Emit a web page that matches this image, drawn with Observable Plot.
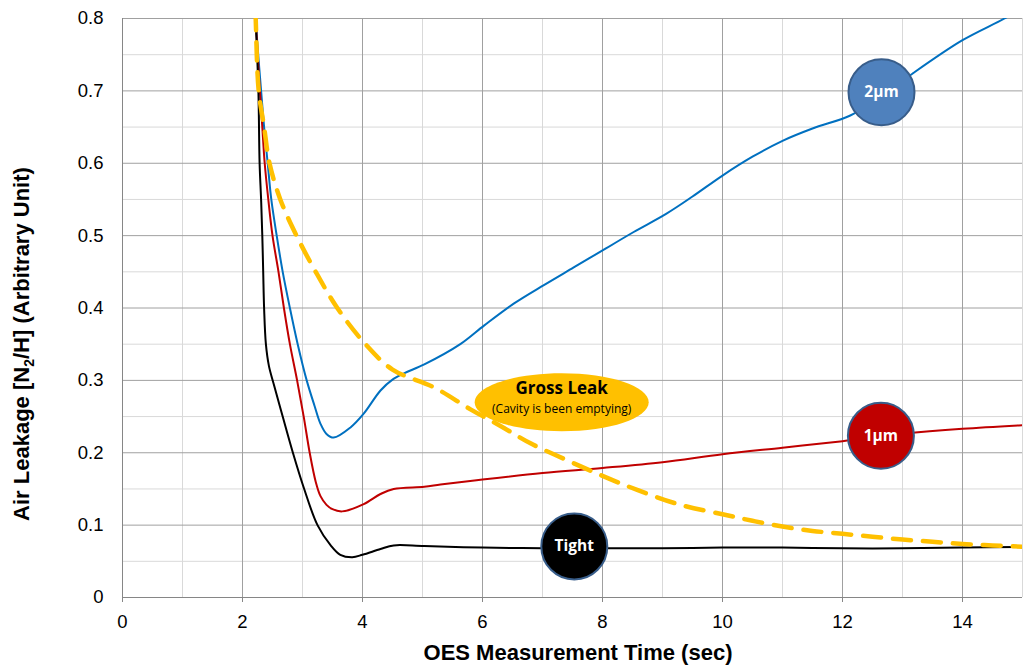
<!DOCTYPE html>
<html><head><meta charset="utf-8">
<script src="https://cdn.jsdelivr.net/npm/d3@7"></script>
<script src="https://cdn.jsdelivr.net/npm/@observablehq/plot@0.6"></script>
<style>body{margin:0;background:#fff;}</style>
</head><body><div id="chart"></div>
<script>
// ---- data ----
const tightX = [2.2, 2.22, 2.265, 2.285, 2.31, 2.33, 2.345, 2.36, 2.39, 2.44, 2.52, 2.67, 2.84, 3.02, 3.25, 3.47, 3.63, 3.83, 4.0, 4.3, 4.52, 5.03, 6, 7, 8, 9, 10, 11, 12, 13, 14, 15];
const tightY = [0.85, 0.8, 0.7, 0.6, 0.55, 0.5, 0.45, 0.4, 0.35, 0.32, 0.295, 0.25, 0.2, 0.152, 0.1, 0.072, 0.059, 0.0557, 0.059, 0.067, 0.072, 0.071, 0.069, 0.068, 0.068, 0.068, 0.069, 0.069, 0.068, 0.068, 0.069, 0.07];

const oneX = [2.2, 2.22, 2.29, 2.33, 2.37, 2.43, 2.5, 2.6, 2.69, 2.79, 2.91, 3.02, 3.12, 3.22, 3.3, 3.4, 3.5, 3.66, 4.02, 4.3, 4.52, 5.03, 5.3, 6, 7, 8, 9, 10, 11, 12, 13, 14, 15];
const oneY = [0.85, 0.8, 0.7, 0.65, 0.6, 0.55, 0.5, 0.45, 0.4, 0.35, 0.3, 0.25, 0.2, 0.16, 0.14, 0.128, 0.122, 0.119, 0.129, 0.143, 0.15, 0.153, 0.156, 0.163, 0.172, 0.179, 0.187, 0.198, 0.207, 0.216, 0.226, 0.233, 0.238];

const twoX = [2.2, 2.22, 2.31, 2.36, 2.42, 2.48, 2.57, 2.67, 2.79, 2.92, 3.07, 3.2, 3.3, 3.4, 3.52, 3.8, 4.02, 4.3, 4.5, 4.7, 5.03, 5.63, 6.03, 6.52, 7.03, 7.52, 8.05, 8.52, 9.06, 9.5, 10, 10.5, 11, 11.5, 12.13, 12.65, 13.17, 14.0, 14.7, 15];
const twoY = [0.85, 0.8, 0.7, 0.65, 0.6, 0.55, 0.5, 0.45, 0.4, 0.35, 0.3, 0.265, 0.24, 0.226, 0.221, 0.235, 0.254, 0.286, 0.301, 0.31, 0.322, 0.35, 0.376, 0.406, 0.432, 0.456, 0.482, 0.505, 0.53, 0.554, 0.583, 0.609, 0.631, 0.648, 0.666, 0.692, 0.724, 0.77, 0.8, 0.815];

const grossX = [2.2, 2.22, 2.27, 2.36, 2.45, 2.63, 2.9, 3.22, 3.58, 4.05, 4.5, 5.2, 5.8, 6.3, 6.8, 7.4, 8.0, 8.6, 9.3, 10, 10.5, 11, 11.5, 12, 12.5, 13, 13.5, 14, 14.5, 15];
const grossY = [0.85, 0.8, 0.7, 0.65, 0.6, 0.55, 0.5, 0.45, 0.4, 0.35, 0.315, 0.29, 0.26, 0.237, 0.213, 0.19, 0.168, 0.148, 0.128, 0.115, 0.106, 0.098, 0.092, 0.088, 0.084, 0.08, 0.077, 0.074, 0.072, 0.07];

const xTicks = [0, 2, 4, 6, 8, 10, 12, 14];
const yTicks = [0, 0.1, 0.2, 0.3, 0.4, 0.5, 0.6, 0.7, 0.8];
const xMinor = [1, 3, 5, 7, 9, 11, 13, 15];
const yMinor = [0.05, 0.15, 0.25, 0.35, 0.45, 0.55, 0.65, 0.75];

const bubbleLabels = ["2µm", "1µm", "Tight"];
const bubbleX = [12.65, 12.64, 7.53];
const bubbleY = [0.698, 0.2234, 0.0705];
const grossLabel = ["Gross Leak", "(Cavity is been emptying)"];
const grossPos = [7.32, 0.2697];

const toRows = (xs, ys) => xs.map((x, i) => ({x, y: ys[i]}));
const bubbles = bubbleLabels.map((l, i) => ({label: l, x: bubbleX[i], y: bubbleY[i]}));
const bubbleFill = ["#4F81BD", "#C00000", "#000000"];

const ellipseSymbol = {
  draw(ctx, size) {
    const r = Math.sqrt(size / Math.PI), rx = r * 3, ry = r, k = 0.5523;
    ctx.moveTo(rx, 0);
    ctx.bezierCurveTo(rx, ry * k, rx * k, ry, 0, ry);
    ctx.bezierCurveTo(-rx * k, ry, -rx, ry * k, -rx, 0);
    ctx.bezierCurveTo(-rx, -ry * k, -rx * k, -ry, 0, -ry);
    ctx.bezierCurveTo(rx * k, -ry, rx, -ry * k, rx, 0);
    ctx.closePath();
  }
};

const lineOpts = {x: "x", y: "y", curve: "catmull-rom", clip: true, strokeWidth: 2};

const plot = Plot.plot({
  width: 1023, height: 666,
  marginLeft: 122, marginRight: 1, marginTop: 18, marginBottom: 69,
  style: {fontFamily: "'Liberation Sans', Arial, sans-serif", background: "#fff"},
  x: {domain: [0, 15], ticks: xTicks, tickSize: 5, tickPadding: 12, label: null, tickFormat: d => String(d)},
  y: {domain: [0, 0.8], ticks: yTicks, tickSize: 0, tickPadding: 19, label: null, tickFormat: d => String(+d.toFixed(2))},
  marks: [
    Plot.ruleX(xMinor, {stroke: "#D9D9D9", strokeWidth: 1}),
    Plot.ruleY(yMinor, {stroke: "#D9D9D9", strokeWidth: 1}),
    Plot.ruleX(xTicks, {stroke: "#A0A0A0", strokeWidth: 1}),
    Plot.ruleY(yTicks, {stroke: "#A0A0A0", strokeWidth: 1}),
    Plot.ruleX([0], {stroke: "#868686", strokeWidth: 1}),
    Plot.ruleY([0], {stroke: "#868686", strokeWidth: 1}),
    Plot.line(toRows(twoX, twoY), {...lineOpts, stroke: "#0070C0"}),
    Plot.line(toRows(oneX, oneY), {...lineOpts, stroke: "#C00000"}),
    Plot.line(toRows(tightX, tightY), {...lineOpts, stroke: "#000000"}),
    Plot.line(toRows(grossX, grossY), {...lineOpts, stroke: "#FFC000", strokeWidth: 4.5, strokeDasharray: "18,12"}),
    Plot.dot([{x: grossPos[0], y: grossPos[1]}], {x: "x", y: "y", r: 29, symbol: ellipseSymbol, fill: "#FFC000", stroke: "none"}),
    Plot.text([grossLabel[0]], {x: () => grossPos[0], y: () => grossPos[1], text: d => d, dy: -14, fontSize: 17, fontWeight: "bold", fill: "#000", fontFamily: "'Open Sans', sans-serif"}),
    Plot.text([grossLabel[1]], {x: () => grossPos[0], y: () => grossPos[1], text: d => d, dy: 7, fontSize: 12, fill: "#000", fontFamily: "'Open Sans', sans-serif"}),
    Plot.dot(bubbles, {x: "x", y: "y", r: 33, fill: (d, i) => bubbleFill[i], stroke: "#385D8A", strokeWidth: 2}),
    Plot.text(bubbles, {x: "x", y: "y", text: "label", fill: "#fff", fontSize: 15.5, fontWeight: "bold", fontFamily: "'Open Sans', sans-serif"})
  ]
});

d3.select(plot).selectAll("[aria-label='x-axis tick label'] text, [aria-label='y-axis tick label'] text").attr("font-size", "18.5px").attr("fill", "#000");
d3.select(plot).selectAll("[aria-label='x-axis tick label'], [aria-label='y-axis tick label']").attr("font-size", "18.5px");
d3.select(plot).selectAll("[aria-label='x-axis tick']").attr("stroke", "#868686");

const svg = d3.select(plot);
const yt = svg.append("text")
  .attr("transform", "translate(29,344) rotate(-90)")
  .attr("text-anchor", "middle")
  .attr("font-family", "'Liberation Sans', Arial, sans-serif")
  .attr("font-weight", "bold").attr("font-size", "22px").attr("fill", "#000");
yt.append("tspan").text("Air Leakage [N");
yt.append("tspan").attr("font-size", "14px").attr("dy", "5").text("2");
yt.append("tspan").attr("dy", "-5").text("/H] (Arbitrary Unit)");

svg.append("text")
  .attr("x", 578).attr("y", 660)
  .attr("text-anchor", "middle")
  .attr("font-family", "'Liberation Sans', Arial, sans-serif")
  .attr("font-weight", "bold").attr("font-size", "22px").attr("fill", "#000")
  .text("OES Measurement Time (sec)");

document.getElementById("chart").appendChild(plot);
</script>
</body></html>
